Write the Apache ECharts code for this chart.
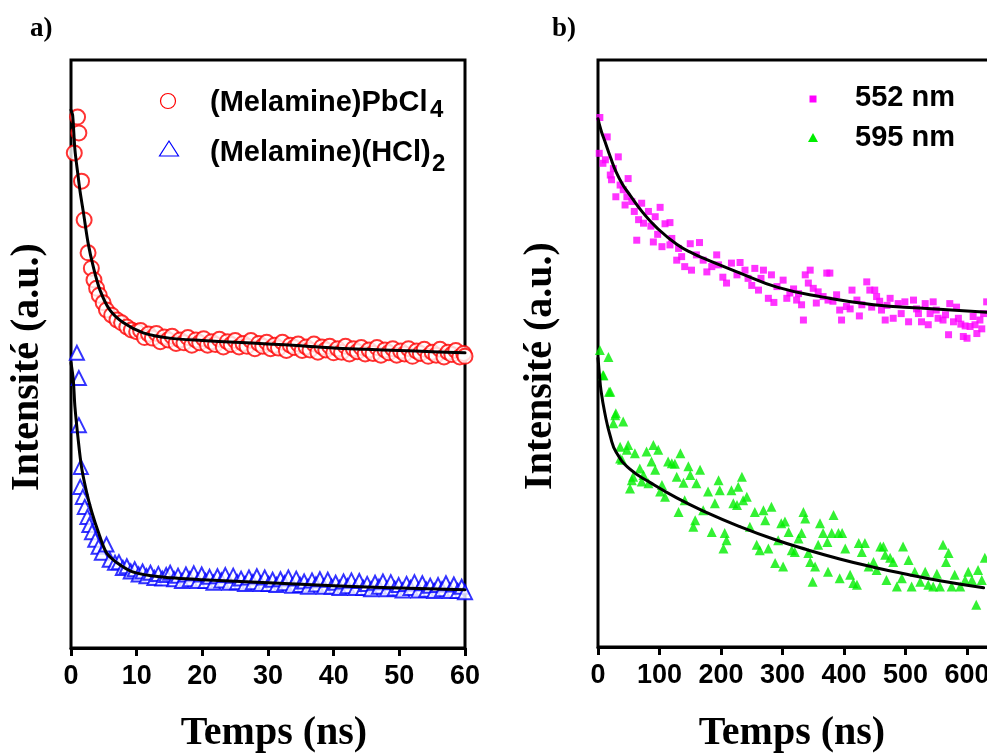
<!DOCTYPE html>
<html>
<head>
<meta charset="utf-8">
<script src="https://cdn.jsdelivr.net/npm/echarts@6/dist/echarts.min.js"></script>
<style>html,body{margin:0;padding:0;background:#fff}#c{width:987px;height:756px}</style>
</head>
<body>
<div id="c"></div>
<script>
// ---- Panel a: time (ns), intensity (a.u., 0-100 arbitrary) ----
const xTicksA = [0, 10, 20, 30, 40, 50, 60];
const melPbCl4 = [[0.5,84.2],[1.0,90.3],[1.2,87.6],[1.6,79.4],[2.0,72.8],[2.6,67.2],[3.1,64.6],[3.5,62.6],[3.9,61.2],[4.3,60.0],[4.9,58.7],[5.4,57.5],[6.2,56.6],[7.0,55.8],[7.7,55.3],[8.5,54.6],[9.2,54.1],[10.0,53.8],[10.6,54.0],[11.2,52.8],[11.8,53.4],[12.4,52.7],[13.0,53.5],[13.6,52.1],[14.2,52.9],[14.8,52.4],[15.4,53.0],[16.0,51.8],[16.6,52.4],[17.2,51.9],[17.8,52.8],[18.4,51.5],[19.0,52.4],[19.6,51.9],[20.2,52.6],[20.8,51.5],[21.4,52.1],[22.0,51.6],[22.6,52.5],[23.2,51.2],[23.8,52.1],[24.4,51.6],[25.0,52.3],[25.6,51.2],[26.2,51.8],[26.8,51.3],[27.4,52.3],[28.0,50.9],[28.6,51.8],[29.2,51.3],[29.8,52.0],[30.4,50.9],[31.0,51.5],[31.6,51.0],[32.2,52.0],[32.8,50.6],[33.4,51.5],[34.0,51.1],[34.6,51.7],[35.2,50.6],[35.8,51.2],[36.4,50.7],[37.0,51.7],[37.6,50.3],[38.2,51.2],[38.8,50.7],[39.4,51.3],[40.0,50.2],[40.6,50.9],[41.2,50.3],[41.8,51.3],[42.4,50.0],[43.0,50.9],[43.6,50.4],[44.2,51.1],[44.8,50.0],[45.4,50.7],[46.0,50.1],[46.6,51.1],[47.2,49.8],[47.8,50.7],[48.4,50.2],[49.0,50.9],[49.6,49.8],[50.2,50.5],[50.8,50.0],[51.4,50.9],[52.0,49.6],[52.6,50.5],[53.2,50.1],[53.8,50.8],[54.4,49.6],[55.0,50.3],[55.6,49.8],[56.2,50.8],[56.8,49.5],[57.4,50.3],[58.0,49.9],[58.6,50.6],[59.2,49.5],[59.8,50.1],[60.0,49.6]];
const melPbCl4Fit = [[0,91.5],[0.25,90.6],[0.6,84.7],[1.1,80.1],[1.4,77.5],[1.9,74.0],[2.6,68.9],[3.4,64.8],[4.4,60.9],[5.9,57.5],[8,55.3],[11,53.6],[15,52.7],[20,52.3],[25,52.0],[30,51.7],[35,51.4],[40,51.0],[45,50.8],[50,50.6],[55,50.4],[60,50.2]];
const melHCl2 = [[0.9,50.2],[1.2,45.9],[1.2,37.9],[1.5,30.8],[1.4,27.4],[1.8,25.7],[2.1,24.0],[2.5,22.3],[2.8,20.9],[3.2,19.7],[3.7,18.4],[4.2,17.2],[4.7,16.2],[5.4,17.6],[5.9,15.0],[6.7,14.5],[7.3,14.6],[7.9,13.6],[8.5,13.9],[9.1,13.0],[9.7,13.4],[10.3,12.5],[10.9,13.0],[11.5,12.2],[12.1,12.8],[12.7,11.9],[13.3,12.6],[13.9,11.8],[14.5,12.4],[15.1,12.8],[15.7,11.7],[16.3,12.3],[16.9,11.4],[17.5,12.5],[18.1,11.7],[18.7,12.7],[19.3,11.4],[19.9,12.5],[20.5,11.4],[21.1,12.1],[21.7,11.1],[22.3,12.2],[22.9,11.5],[23.5,12.4],[24.1,11.1],[24.7,12.3],[25.3,11.2],[25.9,11.8],[26.5,10.9],[27.1,12.0],[27.7,11.2],[28.3,12.2],[28.9,10.9],[29.5,12.0],[30.1,10.9],[30.7,11.6],[31.3,10.7],[31.9,11.7],[32.5,11.0],[33.1,12.0],[33.7,10.6],[34.3,11.8],[34.9,10.7],[35.5,11.3],[36.1,10.4],[36.7,11.5],[37.3,10.8],[37.9,11.7],[38.5,10.4],[39.1,11.6],[39.7,10.4],[40.3,11.1],[40.9,10.2],[41.5,11.3],[42.1,10.5],[42.7,11.5],[43.3,10.2],[43.9,11.4],[44.5,10.2],[45.1,10.9],[45.7,10.0],[46.3,11.1],[46.9,10.4],[47.5,11.3],[48.1,10.0],[48.7,11.2],[49.3,10.1],[49.9,10.7],[50.5,9.8],[51.1,10.9],[51.7,10.2],[52.3,11.2],[52.9,9.8],[53.5,11.0],[54.1,9.9],[54.7,10.6],[55.3,9.7],[55.9,10.7],[56.5,10.0],[57.1,11.0],[57.7,9.7],[58.3,10.8],[58.9,9.7],[59.5,10.4],[60.0,9.5]];
const melHCl2Fit = [[0,48.5],[0.35,45.6],[0.6,41.0],[1.1,35.4],[1.6,30.8],[2.4,26.4],[3.2,23.0],[4.2,19.6],[5.4,16.2],[7,14.5],[9.5,12.9],[13.5,12.1],[20,11.6],[30,11.1],[40,10.6],[50,10.2],[60,9.9]];

// ---- Panel b ----
const xTicksB = [0, 100, 200, 300, 400, 500, 600];
const nm552 = [[3,90.2],[15,86.9],[2,84.1],[8,82.4],[12,83.0],[33,83.5],[20,80.4],[22,79.6],[25,81.5],[49,79.8],[36,78.7],[29,76.7],[41,77.9],[47,76.7],[44,75.3],[55,75.9],[71,75.6],[59,74.2],[82,74.2],[93,73.3],[101,74.9],[74,72.2],[66,72.8],[86,71.7],[117,72.3],[109,72.1],[97,70.3],[63,69.3],[90,69.0],[104,68.2],[117,68.5],[120,69.6],[131,67.9],[136,66.5],[150,68.7],[165,68.9],[128,65.9],[141,64.8],[152,64.2],[160,66.8],[171,65.9],[177,63.9],[185,64.8],[193,66.8],[196,65.1],[203,63.0],[209,62.0],[217,65.4],[226,63.4],[231,65.5],[239,64.2],[244,62.8],[250,61.6],[255,64.5],[265,62.8],[269,64.2],[261,60.8],[277,59.4],[282,63.4],[286,58.7],[291,61.4],[301,62.5],[307,59.4],[312,60.3],[318,61.0],[323,59.1],[326,60.2],[331,58.3],[334,55.7],[337,63.4],[345,64.2],[342,62.0],[350,61.1],[355,58.6],[358,60.5],[366,59.7],[372,63.7],[377,63.7],[374,59.1],[382,58.9],[388,60.0],[393,57.4],[396,55.7],[404,58.0],[410,57.6],[413,60.8],[421,59.1],[425,56.4],[429,58.3],[437,62.2],[442,60.8],[445,57.9],[450,60.8],[453,59.7],[458,58.9],[461,57.4],[467,55.7],[470,58.2],[475,59.4],[480,56.0],[488,58.5],[493,56.8],[499,58.8],[505,55.4],[513,59.1],[518,57.6],[521,56.8],[526,55.4],[532,58.5],[537,54.9],[540,56.8],[545,58.8],[550,57.4],[553,56.0],[561,55.7],[565,56.6],[570,53.2],[572,58.5],[578,55.4],[583,57.9],[586,56.0],[590,55.0],[594,52.9],[597,54.7],[600,52.6],[605,54.6],[610,56.3],[613,54.9],[616,53.4],[621,55.7],[624,54.2],[627,56.8],[632,58.8]];
const nm552Fit = [[0,90.0],[5,88.0],[11,86.2],[20,83.5],[30,80.8],[40,78.8],[52,77.0],[73,74.0],[95,71.5],[128,68.6],[155,67.0],[177,66.0],[231,63.7],[291,61.3],[366,59.6],[448,58.3],[529,57.7],[640,57.0]];
const nm595 = [[3,50.6],[17,49.4],[8,46.3],[9,46.3],[20,43.5],[18,43.5],[28,39.5],[29,39.8],[25,38.1],[41,38.4],[49,34.4],[47,33.6],[36,32.1],[36,34.1],[39,31.9],[60,33.0],[79,33.3],[90,34.4],[98,33.6],[87,31.6],[68,30.4],[57,29.0],[55,28.4],[74,29.3],[93,30.2],[52,27.0],[71,28.2],[82,27.9],[104,27.6],[101,26.5],[109,25.6],[114,31.6],[120,31.3],[125,31.2],[134,33.0],[147,30.8],[128,29.0],[150,29.3],[139,28.0],[160,27.9],[166,30.2],[141,25.0],[131,23.0],[158,21.6],[155,20.5],[171,23.3],[179,26.5],[190,24.5],[196,28.4],[198,26.7],[185,19.6],[206,19.4],[209,18.2],[204,16.8],[217,26.7],[220,24.5],[226,24.2],[228,27.3],[234,29.0],[236,25.0],[242,25.6],[247,20.5],[255,23.0],[258,17.4],[263,16.5],[269,23.3],[272,21.6],[277,16.8],[282,23.9],[288,14.3],[293,18.2],[298,21.1],[301,13.7],[304,21.4],[310,19.6],[315,16.5],[320,16.2],[326,18.5],[331,19.4],[334,23.0],[337,21.9],[342,16.0],[345,14.5],[349,11.1],[353,13.7],[358,17.4],[361,21.1],[366,19.4],[373,17.9],[374,12.8],[380,19.4],[383,22.5],[391,19.4],[393,11.7],[397,19.4],[402,16.8],[410,12.3],[415,10.9],[421,10.6],[424,17.7],[429,16.2],[434,17.7],[440,13.7],[448,14.5],[453,13.1],[459,17.1],[464,17.1],[467,15.7],[469,11.4],[475,15.2],[480,14.5],[486,10.3],[494,11.7],[496,17.1],[505,14.8],[510,10.3],[515,12.8],[524,11.1],[532,12.8],[537,10.6],[545,10.3],[551,12.5],[556,10.3],[561,17.4],[566,14.5],[570,16.0],[575,10.3],[580,12.3],[589,10.3],[597,11.4],[602,12.8],[608,11.4],[615,7.2],[618,13.1],[624,11.4],[629,15.2]];
const nm595Fit = [[0,49.2],[2,46.8],[5,43.6],[11,39.9],[20,35.9],[30,33.1],[52,30.3],[85,28.0],[128,25.4],[177,22.9],[231,20.5],[285,18.4],[339,16.6],[393,15.0],[448,13.6],[502,12.4],[556,11.3],[627,10.1]];

const labelFont = {fontFamily:'Liberation Sans', fontWeight:'bold', fontSize:27, color:'#000'};
const serif = 'bold 40px "Liberation Serif"';
function xAx(gi, max, ticks, showMax){
  return {gridIndex:gi, type:'value', min:0, max:max, interval:ticks[1]-ticks[0],
    axisLine:{show:true, lineStyle:{color:'#000', width:3}},
    axisTick:{show:true, inside:false, length:8, lineStyle:{color:'#000', width:3}},
    axisLabel:Object.assign({margin:15, showMaxLabel:showMax}, labelFont),
    splitLine:{show:false}};
}
function yAx(gi){
  return {gridIndex:gi, type:'value', min:0, max:100,
    axisLine:{show:false}, axisTick:{show:false}, axisLabel:{show:false}, splitLine:{show:false}};
}
function fit(name, data, xi, sm){
  return {name:name, type:'line', xAxisIndex:xi, yAxisIndex:xi, data:data, showSymbol:false, symbol:'none',
    smooth:sm, lineStyle:{color:'#000', width:3, join:'round', cap:'round'}, z:5, silent:true};
}
const chart = echarts.init(document.getElementById('c'), null, {renderer:'canvas'});
chart.setOption({
  animation:false,
  backgroundColor:'#fff',
  grid:[
    {left:71, top:60, width:394, height:588, show:true, borderColor:'#000', borderWidth:3, outerBoundsMode:'none'},
    {left:598, top:60, width:430.5, height:587, show:true, borderColor:'#000', borderWidth:3, outerBoundsMode:'none'}
  ],
  xAxis:[xAx(0, 60, xTicksA, true), xAx(1, 700, xTicksB, false)],
  yAxis:[yAx(0), yAx(1)],
  series:[
    {name:'(Melamine)PbCl4', type:'scatter', xAxisIndex:0, yAxisIndex:0, data:melPbCl4, symbol:'emptyCircle', symbolSize:15,
     itemStyle:{color:'#ff0000', borderColor:'#ff0000', borderWidth:1}},
    {name:'(Melamine)(HCl)2', type:'scatter', xAxisIndex:0, yAxisIndex:0, data:melHCl2, symbol:'emptyTriangle', symbolSize:14,
     itemStyle:{color:'#0000ff', borderColor:'#0000ff', borderWidth:1}},
    fit('fitA1', melPbCl4Fit, 0, 0.3),
    fit('fitA2', melHCl2Fit, 0, 0.3),
    {name:'552 nm', type:'scatter', xAxisIndex:1, yAxisIndex:1, data:nm552, symbol:'rect', symbolSize:7,
     itemStyle:{color:'#ff00ff'}},
    {name:'595 nm', type:'scatter', xAxisIndex:1, yAxisIndex:1, data:nm595, symbol:'triangle', symbolSize:10,
     itemStyle:{color:'#00ee00'}},
    fit('fitB1', nm552Fit, 1, 0.5),
    fit('fitB2', nm595Fit, 1, 0.5)
  ],
  graphic:[
    {type:'text', x:30, y:29, style:{text:'a)', font:'bold 27px "Liberation Serif"', fill:'#000', align:'left', verticalAlign:'middle'}},
    {type:'text', x:552, y:29, style:{text:'b)', font:'bold 27px "Liberation Serif"', fill:'#000', align:'left', verticalAlign:'middle'}},
    {type:'text', x:274, y:734, style:{text:'Temps (ns)', font:serif, fill:'#000', align:'center', verticalAlign:'middle'}},
    {type:'text', x:792, y:734, style:{text:'Temps (ns)', font:serif, fill:'#000', align:'center', verticalAlign:'middle'}},
    {type:'text', x:28, y:367, rotation:Math.PI/2, style:{text:'Intensité (a.u.)', font:serif, fill:'#000', align:'center', verticalAlign:'middle'}},
    {type:'text', x:541, y:366, rotation:Math.PI/2, style:{text:'Intensité (a.u.)', font:serif, fill:'#000', align:'center', verticalAlign:'middle'}},
    // legend a
    {type:'circle', shape:{cx:168, cy:101, r:7.5}, style:{fill:'#fff', stroke:'#ff0000', lineWidth:1.2}},
    {type:'polygon', shape:{points:[[159.5,156],[178.5,156],[169,141]]}, style:{fill:'#fff', stroke:'#0000ff', lineWidth:1.2}},
    {type:'text', x:210, y:103, style:{text:'(Melamine)PbCl', font:'bold 29px "Liberation Sans"', fill:'#000', verticalAlign:'middle'}},
    {type:'text', x:430, y:110, style:{text:'4', font:'bold 24px "Liberation Sans"', fill:'#000', verticalAlign:'middle'}},
    {type:'text', x:210, y:153, style:{text:'(Melamine)(HCl)', font:'bold 29px "Liberation Sans"', fill:'#000', verticalAlign:'middle'}},
    {type:'text', x:432, y:164, style:{text:'2', font:'bold 24px "Liberation Sans"', fill:'#000', verticalAlign:'middle'}},
    // legend b
    {type:'rect', shape:{x:809.5, y:95.5, width:7, height:7}, style:{fill:'#ff00ff'}},
    {type:'polygon', shape:{points:[[808,142],[818,142],[813,133]]}, style:{fill:'#00ee00'}},
    {type:'text', x:855, y:98, style:{text:'552 nm', font:'bold 29px "Liberation Sans"', fill:'#000', verticalAlign:'middle'}},
    {type:'text', x:855, y:138, style:{text:'595 nm', font:'bold 29px "Liberation Sans"', fill:'#000', verticalAlign:'middle'}}
  ]
});
</script>
</body>
</html>
